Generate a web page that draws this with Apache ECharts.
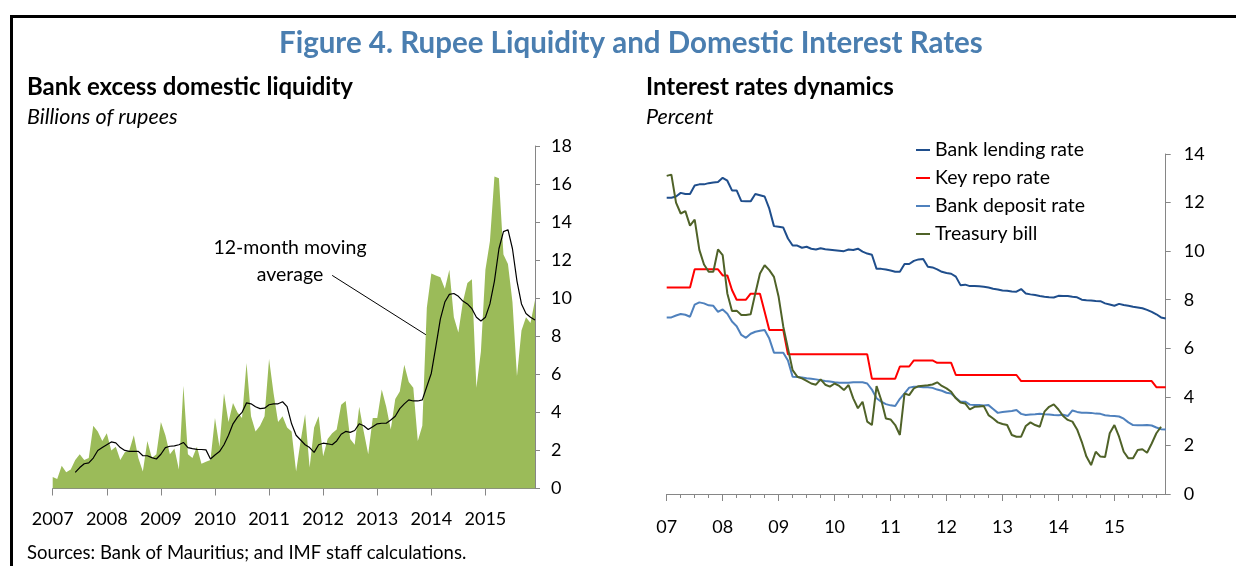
<!DOCTYPE html>
<html>
<head>
<meta charset="utf-8">
<script src="https://cdn.jsdelivr.net/npm/echarts@6/dist/echarts.min.js"></script>
<style>
  html, body { margin: 0; padding: 0; background: #fff; }
  #chart { width: 1236px; height: 566px; }
</style>
</head>
<body>
<div id="chart"></div>
<script>
// years on both x axes, monthly data Jan 2007 - Dec 2015
const years = ['2007', '2008', '2009', '2010', '2011', '2012', '2013', '2014', '2015']
const months = []
years.forEach(y => {
  for (let m = 1; m <= 12; m++) months.push(y + '-' + String(m).padStart(2, '0'))
})
const liquidityTicks = [0, 2, 4, 6, 8, 10, 12, 14, 16, 18]
const rateTicks = [0, 2, 4, 6, 8, 10, 12, 14]

// Bank excess domestic liquidity, billions of rupees
const liquidity = [
  0.6, 0.5, 1.2, 0.85, 1.0, 1.5, 1.8, 1.5, 1.6, 3.3, 3.0, 2.5,
  2.9, 2.0, 2.2, 1.5, 1.9, 2.0, 2.8, 1.6, 0.9, 2.5, 1.6, 1.8,
  3.5, 2.8, 1.8, 2.1, 1.0, 5.4, 1.8, 1.6, 2.2, 1.3, 1.4, 1.5,
  3.7, 2.2, 5.0, 3.5, 4.5, 4.0, 3.7, 6.6, 3.8, 3.0, 3.3, 3.8,
  6.8, 5.0, 3.5, 3.8, 3.2, 3.0, 0.9, 2.5, 3.9, 1.1, 3.2, 3.8,
  1.7, 2.6, 2.9, 3.1, 4.4, 4.6, 2.6, 2.3, 4.3, 3.0, 1.8, 3.7,
  3.7, 5.2, 4.3, 3.1, 4.7, 5.1, 6.5, 5.6, 5.3, 2.5, 3.3, 9.5,
  11.3, 11.2, 11.1, 10.5, 11.5, 9.0, 8.2, 9.8, 10.8, 11.0, 5.3, 7.2,
  11.5, 13.0, 16.4, 16.3, 12.3, 11.8, 9.8, 5.9, 8.3, 9.0, 8.7, 9.9
]
const movingAvg = [
  null, null, null, null, null, 0.85, 1.1, 1.3, 1.35, 1.6, 2.0, 2.15,
  2.3, 2.45, 2.4, 2.15, 2.0, 1.95, 1.95, 1.95, 1.72, 1.72, 1.62, 1.55,
  1.8, 2.15, 2.22, 2.24, 2.3, 2.42, 2.15, 2.1, 2.06, 2.05, 2.03, 1.55,
  1.76, 1.94, 2.3, 2.8, 3.4, 3.75, 4.0, 4.5, 4.45, 4.3, 4.2, 4.22,
  4.4, 4.45, 4.45, 4.56, 4.3, 3.4, 2.8, 2.55, 2.3, 2.15, 1.9, 2.3,
  2.38, 2.35, 2.3, 2.5, 2.85, 3.0, 2.95, 3.05, 3.4, 3.3, 3.1, 3.25,
  3.4, 3.43, 3.43, 3.6, 3.8, 4.2, 4.45, 4.66, 4.6, 4.6, 4.66, 5.36,
  6.06, 7.46, 8.9, 9.8, 10.2, 10.25, 10.1, 9.85, 9.7, 9.45, 9.0, 8.8,
  9.0, 9.7, 10.9, 12.6, 13.5, 13.6, 12.6, 10.9, 9.7, 9.2, 9.0, 8.85
]

// Interest rates, percent
const lendingRate = [
  12.2, 12.2, 12.25, 12.4, 12.35, 12.35, 12.7, 12.75, 12.75, 12.8, 12.83, 12.85,
  13.02, 12.9, 12.5, 12.5, 12.06, 12.05, 12.05, 12.35, 12.3, 12.25, 11.75, 11.03,
  11.0, 10.97, 10.52, 10.23, 10.23, 10.14, 10.18, 10.1, 10.07, 10.12, 10.08, 10.06,
  10.04, 10.02, 10.0, 10.07, 10.05, 10.1, 9.98, 9.9, 9.85, 9.27, 9.27, 9.24,
  9.2, 9.15, 9.15, 9.47, 9.47, 9.6, 9.66, 9.68, 9.36, 9.33, 9.25, 9.15,
  9.1, 9.07, 8.95, 8.6, 8.62, 8.56, 8.56, 8.55, 8.53, 8.5, 8.45, 8.42,
  8.38, 8.37, 8.34, 8.33, 8.44, 8.26, 8.22, 8.19, 8.15, 8.12, 8.1, 8.09,
  8.16, 8.15, 8.15, 8.12, 8.1, 8.0, 7.98, 7.97, 7.95, 7.94, 7.85, 7.8,
  7.75, 7.83, 7.78, 7.75, 7.71, 7.68, 7.65, 7.58, 7.5, 7.4, 7.27, 7.23
]
const repoRate = [
  8.5, 8.5, 8.5, 8.5, 8.5, 8.5, 9.25, 9.25, 9.25, 9.25, 9.25, 9.25,
  9.0, 9.0, 8.4, 8.0, 8.0, 8.0, 8.25, 8.25, 8.25, 7.5, 6.75, 6.75,
  6.75, 6.75, 5.75, 5.75, 5.75, 5.75, 5.75, 5.75, 5.75, 5.75, 5.75, 5.75,
  5.75, 5.75, 5.75, 5.75, 5.75, 5.75, 5.75, 5.75, 4.75, 4.75, 4.75, 4.75,
  4.75, 4.75, 5.25, 5.25, 5.25, 5.5, 5.5, 5.5, 5.5, 5.5, 5.4, 5.4,
  5.4, 5.4, 4.9, 4.9, 4.9, 4.9, 4.9, 4.9, 4.9, 4.9, 4.9, 4.9,
  4.9, 4.9, 4.9, 4.9, 4.65, 4.65, 4.65, 4.65, 4.65, 4.65, 4.65, 4.65,
  4.65, 4.65, 4.65, 4.65, 4.65, 4.65, 4.65, 4.65, 4.65, 4.65, 4.65, 4.65,
  4.65, 4.65, 4.65, 4.65, 4.65, 4.65, 4.65, 4.65, 4.65, 4.4, 4.4, 4.4
]
const depositRate = [
  7.27, 7.27, 7.35, 7.41, 7.38, 7.3, 7.8, 7.89, 7.85, 7.77, 7.75, 7.5,
  7.6, 7.42, 7.1, 6.91, 6.55, 6.43, 6.6, 6.68, 6.72, 6.75, 6.4, 5.82,
  5.82, 5.82, 5.5, 4.83, 4.82, 4.8, 4.77, 4.75, 4.72, 4.68, 4.65, 4.63,
  4.6, 4.58, 4.58, 4.58, 4.6, 4.6, 4.6, 4.55, 4.3, 3.94, 3.8, 3.7,
  3.65, 3.62, 3.92, 4.14, 4.38, 4.42, 4.42, 4.4, 4.4, 4.37, 4.3, 4.25,
  4.17, 4.14, 3.96, 3.8, 3.8, 3.68, 3.66, 3.66, 3.64, 3.66, 3.5, 3.34,
  3.38, 3.4, 3.42, 3.46, 3.3, 3.25, 3.27, 3.28, 3.3, 3.28, 3.27, 3.25,
  3.24, 3.26, 3.21, 3.44, 3.38, 3.35, 3.35, 3.34, 3.31, 3.3, 3.24, 3.22,
  3.21, 3.19, 3.1, 2.95, 2.84, 2.83, 2.83, 2.84, 2.82, 2.74, 2.67, 2.66
]
const treasuryBill = [
  13.1, 13.15, 12.0, 11.55, 11.65, 11.05, 11.3, 10.05, 9.45, 9.15, 9.15, 10.07,
  9.84, 8.26, 7.54, 7.55, 7.37, 7.37, 7.4, 8.26, 9.08, 9.42, 9.22, 8.94,
  8.12, 6.89, 5.99, 5.1, 4.83, 4.76, 4.66, 4.55, 4.5, 4.72, 4.5, 4.42,
  4.55, 4.45, 4.28, 4.49, 3.94, 3.53, 3.8, 2.98, 2.84, 4.44, 3.87, 3.11,
  3.07, 2.84, 2.43, 4.14, 4.07, 4.35, 4.44, 4.46, 4.48, 4.51, 4.6, 4.45,
  4.35, 4.21, 3.94, 3.77, 3.73, 3.48, 3.59, 3.6, 3.62, 3.25, 3.11, 2.95,
  2.88, 2.84, 2.43, 2.36, 2.36, 2.8, 2.95, 2.84, 2.77, 3.39, 3.59, 3.69,
  3.48, 3.21, 3.05, 2.98, 2.66, 2.15, 1.54, 1.19, 1.74, 1.54, 1.52, 2.5,
  2.84, 2.36, 1.74, 1.47, 1.47, 1.81, 1.84, 1.7, 2.08, 2.5, 2.77, null
]

const FONT = 'Lato'
const AXIS_GREY = '#868686'
const everyYear = i => i % 12 === 0

const chart = echarts.init(document.getElementById('chart'))

const textBlock = (text, left, top, size, weight, style, color) => ({
  text,
  left,
  top,
  padding: 0,
  textStyle: { fontFamily: FONT, fontSize: size, fontWeight: weight, fontStyle: style, color: color || '#000' }
})

const valueAxis = (gridIndex, max, ticks, margin) => ({
  type: 'value',
  gridIndex,
  position: 'right',
  min: 0,
  max,
  interval: ticks[1] - ticks[0],
  splitLine: { show: false },
  axisLine: { show: true, lineStyle: { color: AXIS_GREY } },
  axisTick: { show: true, length: 5, lineStyle: { color: AXIS_GREY } },
  axisLabel: { margin, color: '#000', fontFamily: FONT, fontSize: 18 }
})

chart.setOption({
  animation: false,
  title: [
    textBlock('Figure 4. Rupee Liquidity and Domestic Interest Rates', 279, 28, 29.5, 'bold', 'normal', '#4A7EB0'),
    textBlock('Bank excess domestic liquidity', 27, 75, 24, 'bold', 'normal'),
    textBlock('Billions of rupees', 27, 106, 21.5, 'normal', 'italic'),
    textBlock('Interest rates dynamics', 646, 75, 24, 'bold', 'normal'),
    textBlock('Percent', 646, 106, 21.5, 'normal', 'italic'),
    textBlock('Sources: Bank of Mauritius; and IMF staff calculations.', 27, 544, 18.5, 'normal', 'normal')
  ],
  legend: {
    data: ['Bank lending rate', 'Key repo rate', 'Bank deposit rate', 'Treasury bill'],
    orient: 'vertical',
    left: 916,
    top: 140,
    itemWidth: 14,
    itemHeight: 2,
    itemGap: 8,
    icon: 'rect',
    padding: 0,
    textStyle: { fontFamily: FONT, fontSize: 19.5, color: '#000', lineHeight: 20 }
  },
  grid: [
    { left: 52.7, top: 146, width: 482.3, height: 342.5 },
    { left: 666.7, top: 154, width: 499, height: 340 }
  ],
  xAxis: [
    {
      type: 'category',
      gridIndex: 0,
      data: months,
      boundaryGap: false,
      axisLine: { lineStyle: { color: AXIS_GREY } },
      axisTick: { interval: (i) => everyYear(i), length: 7, lineStyle: { color: AXIS_GREY } },
      axisLabel: {
        interval: (i) => everyYear(i),
        formatter: v => v.slice(0, 4),
        margin: 22,
        color: '#000',
        fontFamily: FONT,
        fontSize: 18
      }
    },
    {
      type: 'category',
      gridIndex: 1,
      data: months,
      boundaryGap: false,
      axisLine: { lineStyle: { color: AXIS_GREY } },
      axisTick: { interval: (i) => i % 3 === 0, length: 4, lineStyle: { color: AXIS_GREY } },
      axisLabel: {
        interval: (i) => everyYear(i),
        formatter: v => v.slice(2, 4),
        margin: 24,
        color: '#000',
        fontFamily: FONT,
        fontSize: 18
      }
    },
    {
      type: 'category',
      gridIndex: 1,
      position: 'bottom',
      data: months,
      boundaryGap: false,
      axisLine: { show: false },
      axisTick: { interval: (i) => everyYear(i), length: 7, lineStyle: { color: AXIS_GREY } },
      axisLabel: { show: false }
    }
  ],
  yAxis: [
    valueAxis(0, 18, liquidityTicks, 16),
    valueAxis(1, 14, rateTicks, 18)
  ],
  series: [
    {
      type: 'line',
      xAxisIndex: 0,
      yAxisIndex: 0,
      data: liquidity,
      symbol: 'none',
      lineStyle: { width: 0 },
      areaStyle: { color: '#9BBB59', opacity: 1 }
    },
    {
      type: 'line',
      xAxisIndex: 0,
      yAxisIndex: 0,
      data: movingAvg,
      symbol: 'none',
      lineStyle: { width: 1.2, color: '#000' }
    },
    {
      name: 'Bank lending rate',
      type: 'line',
      xAxisIndex: 1,
      yAxisIndex: 1,
      data: lendingRate,
      symbol: 'none',
      color: '#1F4E8C',
      lineStyle: { width: 2 }
    },
    {
      name: 'Key repo rate',
      type: 'line',
      xAxisIndex: 1,
      yAxisIndex: 1,
      data: repoRate,
      symbol: 'none',
      color: '#FF0000',
      lineStyle: { width: 2 }
    },
    {
      name: 'Bank deposit rate',
      type: 'line',
      xAxisIndex: 1,
      yAxisIndex: 1,
      data: depositRate,
      symbol: 'none',
      color: '#4F81BD',
      lineStyle: { width: 2 }
    },
    {
      name: 'Treasury bill',
      type: 'line',
      xAxisIndex: 1,
      yAxisIndex: 1,
      data: treasuryBill,
      symbol: 'none',
      color: '#4F6228',
      lineStyle: { width: 2 }
    }
  ]
})

// frame and the moving-average callout
const from = chart.convertToPixel({ xAxisIndex: 0, yAxisIndex: 0 }, [62, 11.2])
const to = chart.convertToPixel({ xAxisIndex: 0, yAxisIndex: 0 }, [86, 7.6])
chart.setOption({
  graphic: [
    { type: 'line', shape: { x1: 10, y1: 16.5, x2: 1236, y2: 16.5 }, style: { stroke: '#000', lineWidth: 3 } },
    { type: 'line', shape: { x1: 11.5, y1: 15, x2: 11.5, y2: 566 }, style: { stroke: '#000', lineWidth: 3 } },
    {
      type: 'text',
      x: 290,
      y: 234,
      style: {
        text: '12-month moving\naverage',
        align: 'center',
        fontFamily: FONT,
        fontSize: 19.5,
        lineHeight: 27,
        fill: '#000'
      }
    },
    { type: 'line', shape: { x1: from[0], y1: from[1], x2: to[0], y2: to[1] }, style: { stroke: '#000', lineWidth: 1 } }
  ]
})
</script>
</body>
</html>
